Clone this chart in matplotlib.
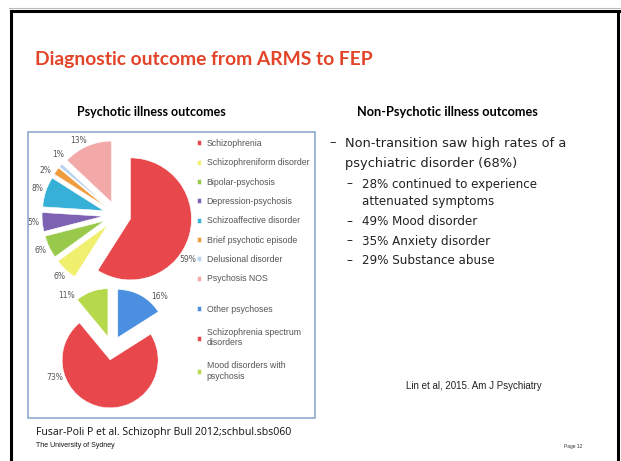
import numpy as np
import matplotlib.pyplot as plt
from matplotlib.patches import Rectangle
from matplotlib.lines import Line2D

W, H = 621, 461

# psychotic illness outcomes (top pie)
top_labels = ["Schizophrenia", "Schizophreniform disorder", "Bipolar-psychosis",
              "Depression-psychosis", "Schizoaffective disorder", "Brief psychotic episode",
              "Delusional disorder", "Psychosis NOS"]
top_values = [59, 6, 6, 5, 8, 2, 1, 13]
top_colors = ["#e8474b", "#f1ef6e", "#98c94a", "#7d62b3", "#36b0d6", "#ef9c3f", "#b9d3ee", "#f4a9a9"]

# grouped outcomes (bottom pie)
bot_labels = ["Other psychoses", "Schizophrenia spectrum\ndisorders", "Mood disorders with\npsychosis"]
bot_values = [16, 73, 11]
bot_colors = ["#4a8fe0", "#e8474b", "#b6d94c"]

# right-hand bullet text
main_bullet = ["Non-transition saw high rates of a", "psychiatric disorder (68%)"]
sub_bullets = [["28% continued to experience", "attenuated symptoms"],
               ["49% Mood disorder"], ["35% Anxiety disorder"], ["29% Substance abuse"]]


def fx(x):
    return x / W


def fy(y):
    return 1 - y / H


fig = plt.figure(figsize=(W / 100, H / 100), dpi=100)
fig.patch.set_facecolor("white")

# slide frame
fig.add_artist(Line2D([fx(11), fx(11)], [fy(11), 0], color="black", lw=2.2))
fig.add_artist(Line2D([fx(11), fx(619)], [fy(11), fy(11)], color="black", lw=2.2))
fig.add_artist(Line2D([fx(618), fx(618)], [fy(11), 0], color="black", lw=2.2))
fig.add_artist(Line2D([fx(9), fx(621)], [fy(8), fy(8)], color="#bbbbbb", lw=0.8))

title_red = "#e2452a"
fig.text(fx(35), fy(59), "Diagnostic outcome from ARMS to FEP", color=title_red,
         fontsize=13.9, fontweight="bold", family="Lato", va="center")
fig.text(fx(151), fy(112), "Psychotic illness outcomes", fontsize=9, fontweight="bold",
         family="Lato", ha="center", va="center")
fig.text(fx(447), fy(112), "Non-Psychotic illness outcomes", fontsize=9.2, fontweight="bold",
         family="Lato", ha="center", va="center")

# chart box
fig.add_artist(Rectangle((fx(28), fy(418)), fx(315) - fx(28), fy(132) - fy(418),
                         transform=fig.transFigure, fill=False, edgecolor="#8eaacd", lw=1.2))


def pie_axes(cx, cy, r, span=1.6):
    half = r * span
    ax = fig.add_axes([fx(cx - half), fy(cy + half), 2 * half / W, 2 * half / H])
    ax.axis("off")
    return ax, span


def draw_pie(ax, span, values, colors, explode, fracs, dist):
    wedges, _ = ax.pie(values, colors=colors, startangle=90, counterclock=False,
                       explode=[explode] * len(values),
                       wedgeprops=dict(edgecolor="white", lw=0.4))
    ax.set_xlim(-span, span)
    ax.set_ylim(-span, span)
    ax.set_aspect("equal")
    # percentage labels just outside each wedge
    for w, v, f in zip(wedges, values, fracs):
        a = np.deg2rad(w.theta1 + f * (w.theta2 - w.theta1))
        cx, cy = w.center
        ax.text(cx + dist * np.cos(a), cy + dist * np.sin(a), f"{v}%",
                fontsize=5.5, color="#555555", ha="center", va="center")
    return wedges


ax1, s1 = pie_axes(117, 215, 61)
w1 = draw_pie(ax1, s1, top_values, top_colors, 0.23,
              [0.41, 0.5, 0.5, 0.5, 0.5, 1.2, -1.0, 0.6], 1.15)

ax2, s2 = pie_axes(112, 348, 48)
w2 = draw_pie(ax2, s2, bot_values, bot_colors, 0.25, [0.22, 0.26, 1.14], 1.22)

leg_kw = dict(frameon=False, handlelength=0.5, handleheight=0.5,
              handletextpad=0.6, labelcolor="#555555", bbox_transform=fig.transFigure,
              borderpad=0, borderaxespad=0, prop={"family": "Liberation Sans", "size": 6.3})
fig.legend(w1, top_labels, loc="upper left", bbox_to_anchor=(fx(197), fy(139)),
           labelspacing=1.18, **leg_kw)
fig.legend(w2, bot_labels, loc="upper left", bbox_to_anchor=(fx(197), fy(305)),
           labelspacing=1.6, **leg_kw)

# bullets
body = dict(family="DejaVu Sans", color="#222222", va="center")
fig.text(fx(329), fy(143), "\u2013", fontsize=9.4, **body)
for i, line in enumerate(main_bullet):
    fig.text(fx(345), fy(143 + 20.5 * i), line, fontsize=9.4, **body)
y = 184
for item in sub_bullets:
    fig.text(fx(346), fy(y), "\u2013", fontsize=8.6, **body)
    for line in item:
        fig.text(fx(362), fy(y), line, fontsize=8.6, **body)
        y += 18
    y += 1.5

fig.text(fx(474), fy(386), "Lin et al, 2015. Am J Psychiatry", fontsize=7,
         family="Liberation Sans", ha="center", va="center", color="#222222")
fig.text(fx(36), fy(432), "Fusar-Poli P et al. Schizophr Bull 2012;schbul.sbs060", fontsize=7.6,
         family="Open Sans", va="center", color="#111111")
fig.text(fx(36), fy(445), "The University of Sydney", fontsize=5,
         family="Liberation Sans", va="center", color="#111111")
fig.text(fx(573), fy(446), "Page 12", fontsize=3.5,
         family="Liberation Sans", ha="center", va="center", color="#333333")

fig.savefig("out.png", dpi=100, facecolor="white")
